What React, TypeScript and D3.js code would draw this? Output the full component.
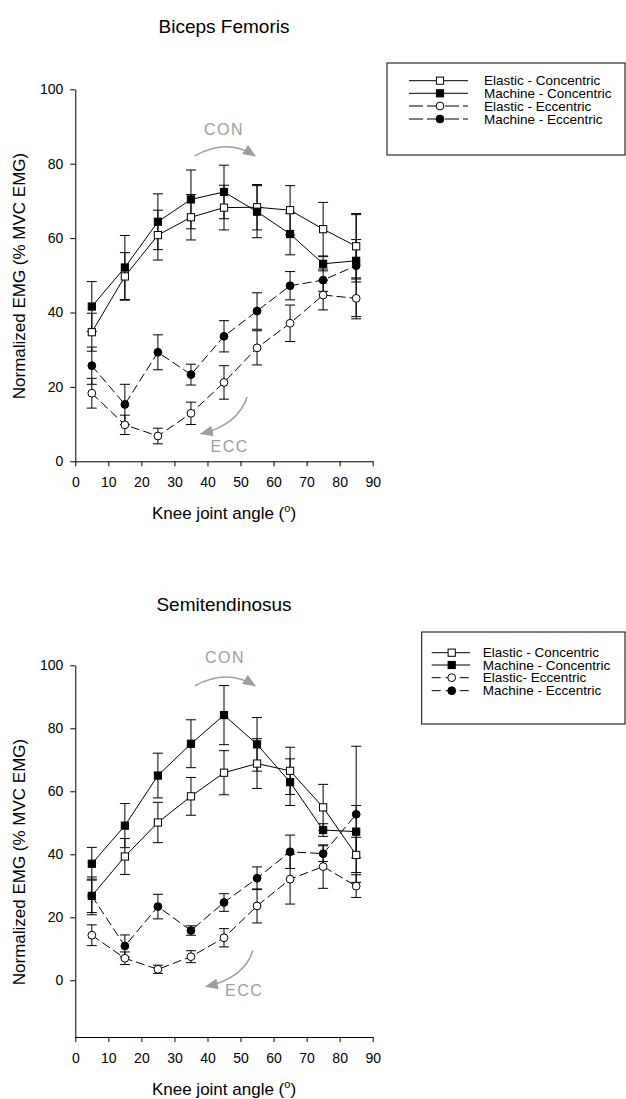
import React, { useEffect, useRef } from "react";
import * as d3 from "d3";

const FONT = "'Liberation Sans', Arial, Helvetica, sans-serif";
const GREY = "#9e9e9e";

const angles = [5, 15, 25, 35, 45, 55, 65, 75, 85];
const xTicks = [0, 10, 20, 30, 40, 50, 60, 70, 80, 90];
const yTicks = [0, 20, 40, 60, 80, 100];

// Biceps Femoris (mean, sd)
const bfElasticCon = [34.7, 49.7, 60.8, 65.6, 68.2, 68.3, 67.5, 62.4, 57.8];
const bfElasticConErr = [5.1, 6.4, 6.7, 6.1, 6.0, 6.1, 6.6, 7.2, 8.8];
const bfMachineCon = [41.6, 52.1, 64.4, 70.4, 72.4, 67.1, 61.1, 53.1, 53.9];
const bfMachineConErr = [6.7, 8.6, 7.5, 7.9, 7.2, 7.0, 5.6, 1.9, 5.7];
const bfElasticEcc = [18.3, 9.8, 6.8, 12.9, 21.2, 30.5, 37.1, 44.7, 43.8];
const bfElasticEccErr = [4.0, 2.6, 2.1, 3.0, 4.5, 4.6, 4.9, 4.0, 5.5];
const bfMachineEcc = [25.7, 15.3, 29.3, 23.3, 33.6, 40.4, 47.2, 48.7, 52.6];
const bfMachineEccErr = [5.0, 5.4, 4.7, 2.8, 4.2, 4.9, 3.8, 3.0, 13.7];

// Semitendinosus (mean, sd)
const stElasticCon = [26.8, 39.3, 50.1, 58.4, 65.9, 68.8, 66.5, 54.9, 39.8];
const stElasticConErr = [5.3, 5.7, 6.4, 6.0, 7.0, 7.9, 7.5, 7.3, 5.6];
const stMachineCon = [37.0, 49.1, 65.0, 75.1, 84.2, 74.9, 62.9, 47.7, 47.2];
const stMachineConErr = [5.2, 7.0, 7.1, 7.6, 9.4, 8.5, 7.4, 2.0, 8.3];
const stElasticEcc = [14.3, 7.0, 3.5, 7.5, 13.5, 23.6, 32.1, 36.1, 29.9];
const stElasticEccErr = [3.3, 2.0, 1.3, 1.9, 2.9, 5.4, 7.9, 6.9, 3.6];
const stMachineEcc = [26.8, 10.9, 23.4, 15.8, 24.7, 32.4, 40.8, 40.2, 52.7];
const stMachineEccErr = [6.0, 3.5, 3.9, 1.5, 2.8, 3.6, 5.3, 2.5, 21.6];

const bfLabels = ["Elastic - Concentric", "Machine - Concentric", "Elastic - Eccentric", "Machine - Eccentric"];
const stLabels = ["Elastic - Concentric", "Machine - Concentric", "Elastic- Eccentric", "Machine - Eccentric"];

// marker / line style per series
const styles = [
  { shape: "square", filled: false, dashed: false },
  { shape: "square", filled: true, dashed: false },
  { shape: "circle", filled: false, dashed: true },
  { shape: "circle", filled: true, dashed: true },
];

const plotLeft = 75.3;
const plotRight = 372.7;
const DASH = "9,4";

function Marker({ cx, cy, shape, filled }) {
  const fill = filled ? "#000" : "#fff";
  if (shape === "square") {
    return <rect x={cx - 3.6} y={cy - 3.6} width={7.2} height={7.2} fill={fill} stroke="#000" strokeWidth={1} />;
  }
  return <circle cx={cx} cy={cy} r={3.9} fill={fill} stroke="#000" strokeWidth={1} />;
}

function Panel({ title, titleY, yDomain, yRange, yLabelY, values, errors, labels, legend, ann }) {
  const xAxisRef = useRef(null);
  const yAxisRef = useRef(null);
  const x = d3.scaleLinear().domain([0, 90]).range([plotLeft, plotRight]);
  const y = d3.scaleLinear().domain(yDomain).range(yRange);
  const bottom = yRange[0];

  useEffect(() => {
    const xa = d3.select(xAxisRef.current);
    xa.call(d3.axisBottom(x).tickValues(xTicks).tickSize(5).tickSizeOuter(0).tickPadding(11).tickFormat(d3.format("d")));
    const ya = d3.select(yAxisRef.current);
    ya.call(d3.axisLeft(y).tickValues(yTicks).tickSize(5).tickSizeOuter(0).tickPadding(7).tickFormat(d3.format("d")));
    [xa, ya].forEach((a) => {
      a.attr("font-family", FONT).attr("font-size", 14);
      a.selectAll("path, line").attr("stroke", "#000");
      a.selectAll("text").attr("fill", "#000");
    });
  }, []);

  const line = d3
    .line<number>()
    .x((_, i) => x(angles[i]))
    .y((d) => y(d));

  const p = (pt) => [x(pt[0]), y(pt[1])];
  const arrowPath = (a) => {
    const [s, c, e] = a.map(p);
    return `M${s[0]},${s[1]} Q${c[0]},${c[1]} ${e[0]},${e[1]}`;
  };

  return (
    <g>
      <text x={(plotLeft + plotRight) / 2} y={titleY} textAnchor="middle" fontSize={19} fontFamily={FONT}>
        {title}
      </text>

      {/* annotations */}
      <text x={x(ann.con[0])} y={y(ann.con[1])} textAnchor="middle" fontSize={16} letterSpacing={1.5} fill={GREY} fontFamily={FONT}>
        CON
      </text>
      <path d={arrowPath(ann.conArrow)} fill="none" stroke={GREY} strokeWidth={1.5} markerEnd="url(#arrowhead)" />
      <text x={x(ann.ecc[0])} y={y(ann.ecc[1])} textAnchor="middle" fontSize={16} letterSpacing={1.5} fill={GREY} fontFamily={FONT}>
        ECC
      </text>
      <path d={arrowPath(ann.eccArrow)} fill="none" stroke={GREY} strokeWidth={1.5} markerEnd="url(#arrowhead)" />

      {/* series */}
      {values.map((vals, si) => (
        <g key={"s" + si}>
          {vals.map((v, i) => {
            const cx = x(angles[i]);
            const e = errors[si][i];
            return (
              <g key={i} stroke="#000" strokeWidth={1}>
                <line x1={cx} x2={cx} y1={y(v - e)} y2={y(v + e)} />
                <line x1={cx - 5} x2={cx + 5} y1={y(v - e)} y2={y(v - e)} />
                <line x1={cx - 5} x2={cx + 5} y1={y(v + e)} y2={y(v + e)} />
              </g>
            );
          })}
          <path d={line(vals)} fill="none" stroke="#000" strokeWidth={1} strokeDasharray={styles[si].dashed ? DASH : undefined} />
        </g>
      ))}
      {values.map((vals, si) => (
        <g key={"m" + si}>
          {vals.map((v, i) => (
            <Marker key={i} cx={x(angles[i])} cy={y(v)} shape={styles[si].shape} filled={styles[si].filled} />
          ))}
        </g>
      ))}

      <g ref={xAxisRef} transform={`translate(0,${bottom})`} />
      <g ref={yAxisRef} transform={`translate(${plotLeft},0)`} />

      <text
        transform={`translate(${(plotLeft + plotRight) / 2},${bottom + 58})`}
        textAnchor="middle"
        fontSize={17}
        fontFamily={FONT}
      >
        Knee joint angle (<tspan fontSize={11} dy={-7}>o</tspan><tspan dy={7}>)</tspan>
      </text>
      <text transform={`translate(25,${yLabelY}) rotate(-90)`} textAnchor="middle" fontSize={17} fontFamily={FONT}>
        Normalized EMG (% MVC EMG)
      </text>

      {/* legend */}
      <rect x={legend.x} y={legend.y} width={legend.w} height={legend.h} fill="#fff" stroke="#000" strokeWidth={1} />
      {labels.map((lab, i) => {
        const ly = legend.rows[i];
        return (
          <g key={lab + i}>
            <line x1={legend.l0} x2={legend.l1} y1={ly} y2={ly} stroke="#000" strokeWidth={1} strokeDasharray={styles[i].dashed ? legend.dash : undefined} />
            <Marker cx={legend.m} cy={ly} shape={styles[i].shape} filled={styles[i].filled} />
            <text x={legend.tx} y={ly + 4.5} fontSize={13.5} fontFamily={FONT}>
              {lab}
            </text>
          </g>
        );
      })}
    </g>
  );
}

export default function App() {
  return (
    <svg width={626} height={1099} style={{ position: "absolute", left: 0, top: 0, background: "#fff" }}>
      <defs>
        <marker id="arrowhead" markerUnits="userSpaceOnUse" markerWidth={13} markerHeight={11} refX={12} refY={5.5} orient="auto">
          <path d="M0,0 L13,5.5 L0,11 z" fill={GREY} />
        </marker>
      </defs>
      <rect width={626} height={1099} fill="#fff" />
      <Panel
        title="Biceps Femoris"
        titleY={32.7}
        yDomain={[0, 100]}
        yRange={[461.3, 89.3]}
        yLabelY={276}
        values={[bfElasticCon, bfMachineCon, bfElasticEcc, bfMachineEcc]}
        errors={[bfElasticConErr, bfMachineConErr, bfElasticEccErr, bfMachineEccErr]}
        labels={bfLabels}
        legend={{ x: 387, y: 63, w: 238, h: 92, rows: [80.7, 93.3, 106, 119], l0: 409, l1: 468, m: 440, tx: 484, dash: "14,4" }}
        ann={{
          con: [45.0, 87.7],
          conArrow: [[36.2, 82.1], [46, 87], [54.4, 82.1]],
          ecc: [46.7, 2.5],
          eccArrow: [[52.0, 17.3], [49.2, 9.8], [38.0, 7.4]],
        }}
      />
      <Panel
        title="Semitendinosus"
        titleY={611}
        yDomain={[-18, 100]}
        yRange={[1037, 665.3]}
        yLabelY={862}
        values={[stElasticCon, stMachineCon, stElasticEcc, stMachineEcc]}
        errors={[stElasticConErr, stMachineConErr, stElasticEccErr, stMachineEccErr]}
        labels={stLabels}
        legend={{ x: 421.7, y: 632, w: 203.3, h: 92, rows: [652.7, 665, 677.7, 690.7], l0: 431.7, l1: 470, m: 451.7, tx: 482.7, dash: "9,5" }}
        ann={{
          con: [45.3, 100.7],
          conArrow: [[36.2, 93.5], [46, 99], [54.4, 93.5]],
          ecc: [51.1, -5.0],
          eccArrow: [[53.7, 9.4], [51.1, 0.7], [39.5, -2.0]],
        }}
      />
    </svg>
  );
}
